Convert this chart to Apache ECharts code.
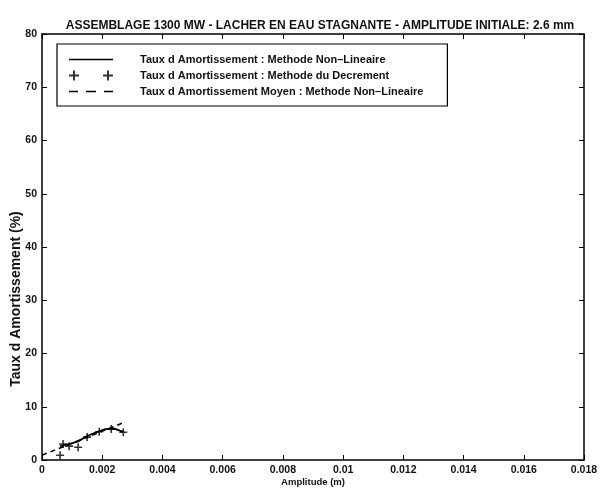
<!DOCTYPE html>
<html><head><meta charset="utf-8">
<script src="https://cdn.jsdelivr.net/npm/echarts@6/dist/echarts.min.js"></script>
<style>html,body{margin:0;padding:0;background:#fff}#c{width:600px;height:490px}</style>
</head><body><div id="c"></div>
<script>
const titleText = 'ASSEMBLAGE 1300 MW - LACHER EN EAU STAGNANTE - AMPLITUDE INITIALE: 2.6 mm';
const seriesNames = ['Taux d Amortissement : Methode Non\u2013Lineaire', 'Taux d Amortissement : Methode du Decrement', 'Taux d Amortissement Moyen : Methode Non\u2013Lineaire'];
const nonLinX = [0.0006, 0.0009, 0.0012, 0.0015, 0.0018, 0.0021, 0.0024, 0.0027];
const nonLinY = [2.6, 3.0, 3.5, 4.5, 5.2, 5.8, 5.9, 5.3];
const decX = [0.0006, 0.0007, 0.0009, 0.0012, 0.0015, 0.0019, 0.0023, 0.0027];
const decY = [0.9, 3.0, 2.6, 2.4, 4.3, 5.3, 5.8, 5.2];
const meanX = [0.0, 0.0027];
const meanY = [0.9, 7.0];
const xTicks = [0, 0.002, 0.004, 0.006, 0.008, 0.01, 0.012, 0.014, 0.016, 0.018];
const yTicks = [0, 10, 20, 30, 40, 50, 60, 70, 80];

const plusPath = 'path://M4,0H6V4H10V6H6V10H4V6H0V4H4Z';
const font = 'Liberation Sans';
const zip = (a, b) => a.map((v, i) => [v, b[i]]);
const chart = echarts.init(document.getElementById('c'));
const tickStyle = {show: true, inside: true, length: 5, lineStyle: {color: '#000', width: 1}};
const lineAx = {onZero: false, lineStyle: {color: '#000', width: 1.5}};
chart.setOption({
  animation: false,
  backgroundColor: '#fff',
  title: {text: titleText, left: 315, top: 15, textAlign: 'center',
    textStyle: {fontFamily: font, fontSize: 12, fontWeight: 'bold', color: '#111'}},
  grid: {left: 42, right: 16, top: 34, bottom: 30, outerBoundsMode: 'none', containLabel: false},
  legend: {
    orient: 'vertical', left: 57, top: 44, width: 398,
    padding: [10, 24, 9, 12], itemGap: 5, itemWidth: 44, itemHeight: 11,
    borderColor: '#000', borderWidth: 1.2, backgroundColor: '#fff',
    textStyle: {fontFamily: font, fontSize: 11, fontWeight: 'bold', color: '#111', padding: [0, 0, 0, 22]},
    data: [
      {name: seriesNames[0], icon: 'path://M0,5.2H44V6.8H0Z'},
      {name: seriesNames[1], icon: 'path://M4,1H6V5H10V7H6V11H4V7H0V5H4ZM38,1H40V5H44V7H40V11H38V7H34V5H38Z'},
      {name: seriesNames[2], icon: 'path://M0,5.2H9V6.8H0ZM17,5.2H27V6.8H17ZM35,5.2H44V6.8H35Z'}
    ]
  },
  xAxis: [{
    type: 'value', min: 0, max: 0.018, interval: 0.002,
    name: 'Amplitude (m)', nameLocation: 'middle', nameGap: 17, nameMoveOverlap: false,
    nameTextStyle: {fontFamily: font, fontSize: 9.5, fontWeight: 'bold', color: '#111'},
    axisLine: lineAx, axisTick: tickStyle, splitLine: {show: false},
    axisLabel: {fontFamily: font, fontSize: 10.5, fontWeight: 'bold', color: '#111', margin: 5,
      formatter: v => { const t = xTicks.find(x => Math.abs(x - v) < 1e-9); return t === undefined ? '' : String(t); }}
  }, {
    type: 'value', min: 0, max: 0.018, interval: 0.002, position: 'top',
    axisLine: lineAx, axisTick: tickStyle, axisLabel: {show: false}, splitLine: {show: false}
  }],
  yAxis: [{
    type: 'value', min: 0, max: 80, interval: 10,
    name: 'Taux d Amortissement (%)', nameLocation: 'middle', nameGap: 19, nameMoveOverlap: false,
    nameTextStyle: {fontFamily: font, fontSize: 14, fontWeight: 'bold', color: '#111', padding: [0, 104, 0, 0]},
    axisLine: lineAx, axisTick: tickStyle, splitLine: {show: false},
    axisLabel: {fontFamily: font, fontSize: 10.5, fontWeight: 'bold', color: '#111', margin: 5,
      formatter: v => yTicks.includes(v) ? String(v) : ''}
  }, {
    type: 'value', min: 0, max: 80, interval: 10, position: 'right',
    axisLine: lineAx, axisTick: tickStyle, axisLabel: {show: false}, splitLine: {show: false}
  }],
  series: [
    {name: seriesNames[0], type: 'line', data: zip(nonLinX, nonLinY), symbol: 'none',
      lineStyle: {color: '#000', width: 1.8}, itemStyle: {color: '#000'}},
    {name: seriesNames[1], type: 'scatter', data: zip(decX, decY), symbol: plusPath, symbolSize: 8,
      itemStyle: {color: '#000'}},
    {name: seriesNames[2], type: 'line', data: zip(meanX, meanY), symbol: 'none',
      lineStyle: {color: '#000', width: 1.6, type: [5, 4]}, itemStyle: {color: '#000'}}
  ]
});
</script></body></html>
